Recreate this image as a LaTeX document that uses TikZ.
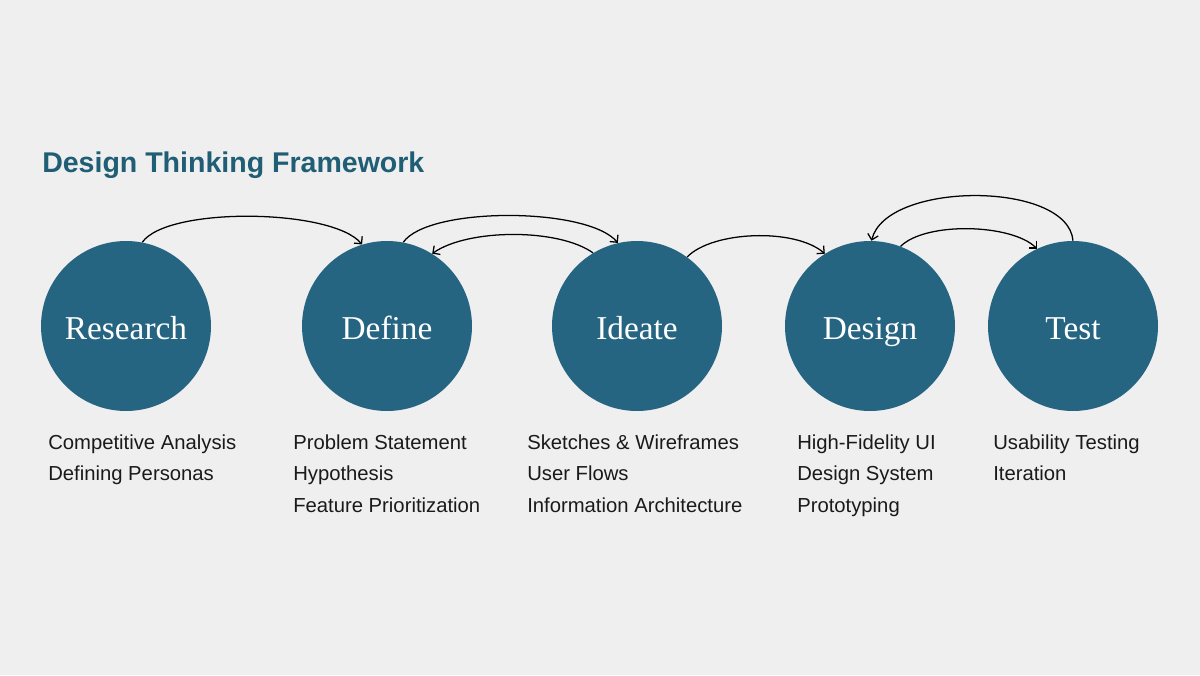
\documentclass[tikz,border=0pt]{standalone}
\usepackage{fontspec}
\setsansfont{Liberation Sans}
\newfontfamily\stagefont{Liberation Serif}
\usetikzlibrary{arrows.meta}
\definecolor{pagebg}{HTML}{EFEFEF}
\definecolor{stagefill}{HTML}{266582}
\definecolor{titlecol}{HTML}{1F5E74}
\definecolor{itemcol}{HTML}{1A1A1A}
\begin{document}
\begin{tikzpicture}[x=0.75pt,y=-0.75pt,
  stage/.style={circle,fill=stagefill,minimum size=127.5pt,inner sep=0pt,
    text height=22pt,text depth=2.5pt,
    text=white,font=\stagefont\fontsize{25}{29}\selectfont},
  item/.style={anchor=base west,inner sep=0pt,text=itemcol,
    font=\sffamily\fontsize{15.2}{18}\selectfont},
  flow/.style={draw=black,line width=0.95pt,-{Straight Barb[length=4pt,width=8pt]}}]
  % page
  \fill[pagebg] (0,0) rectangle (1200,675);
  \useasboundingbox (0,0) rectangle (1200,675);

  % title
  \node[anchor=base west,inner sep=0pt,text=titlecol,
    font=\sffamily\bfseries\fontsize{21.4}{25}\selectfont] (title) at (42,172)
    {Design Thinking Framework};

  % stages
  \node[stage] (research) at (126,326) {Research};
  \node[stage] (define)   at (387,326) {Define};
  \node[stage] (ideate)   at (637,326) {Ideate};
  \node[stage] (design)   at (870,326) {Design};
  \node[stage] (test)     at (1073,326) {Test};

  % activities under each stage
  \node[item] (r1) at (48,449)   {Competitive Analysis};
  \node[item] (r2) at (48,480.5) {Defining Personas};

  \node[item] (d1) at (293,449)   {Problem Statement};
  \node[item] (d2) at (293,480.5) {Hypothesis};
  \node[item] (d3) at (293,512)   {Feature Prioritization};

  \node[item] (i1) at (527,449)   {Sketches \& Wireframes};
  \node[item] (i2) at (527,480.5) {User Flows};
  \node[item] (i3) at (527,512)   {Information Architecture};

  \node[item] (g1) at (797,449)   {High-Fidelity UI};
  \node[item] (g2) at (797,480.5) {Design System};
  \node[item] (g3) at (797,512)   {Prototyping};

  \node[item] (t1) at (993,449)   {Usability Testing};
  \node[item] (t2) at (993,480.5) {Iteration};

  % transitions between stages
  \draw[flow] (research.79) .. controls +(25,-36) and +(-30,-36) .. (define.107);
  \draw[flow] (define.79) .. controls +(25,-36) and +(-30,-36) .. (ideate.103);
  \draw[flow] (ideate.121) .. controls +(-35,-25) and +(35,-25) .. (define.58);
  \draw[flow] (ideate.54) .. controls +(25,-26) and +(-30,-26) .. (design.122);
  \draw[flow] (test.90) .. controls +(-5,-60) and +(15,-60) .. (design.89);
  \draw[flow] (design.69) .. controls +(25,-25) and +(-25,-25) .. (test.115);
\end{tikzpicture}
\end{document}
